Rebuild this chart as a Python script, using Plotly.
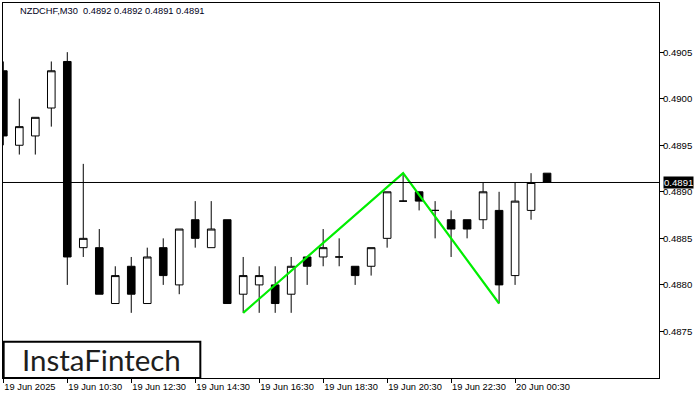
import plotly.graph_objects as go

times = ["08:30", "09:00", "09:30", "10:00", "10:30", "11:00", "11:30", "12:00", "12:30",
         "13:00", "13:30", "14:00", "14:30", "15:00", "15:30", "16:00", "16:30", "17:00",
         "17:30", "18:00", "18:30", "19:00", "19:30", "20:00", "20:30", "21:00", "21:30",
         "22:00", "22:30", "23:00", "23:30", "00:00", "00:30", "01:00", "01:30"]
opens = [0.4903, 0.4895, 0.4896, 0.4899, 0.4904, 0.4884, 0.4884, 0.4878, 0.4882,
         0.4878, 0.4884, 0.4880, 0.4887, 0.4884, 0.4887, 0.4879, 0.4880, 0.4880,
         0.4879, 0.4883, 0.4883, 0.4883, 0.4882, 0.4882, 0.4885, 0.4889, 0.4890,
         0.4888, 0.4887, 0.4887, 0.4887, 0.4888, 0.4881, 0.4888, 0.4892]
highs = [0.4904, 0.4900, 0.4898, 0.4904, 0.4905, 0.4893, 0.4886, 0.4882, 0.4883,
         0.4884, 0.4885, 0.4886, 0.4889, 0.4889, 0.4887, 0.4883, 0.4882, 0.4882,
         0.4883, 0.4883, 0.4886, 0.4885, 0.4882, 0.4884, 0.4890, 0.4892, 0.4890,
         0.4889, 0.4888, 0.4887, 0.4891, 0.4890, 0.4891, 0.4892, 0.4892]
lows = [0.4895, 0.4894, 0.4894, 0.4897, 0.4880, 0.4883, 0.4879, 0.4878, 0.4877,
        0.4878, 0.4880, 0.4879, 0.4884, 0.4884, 0.4878, 0.4877, 0.4877, 0.4877,
        0.4877, 0.4880, 0.4882, 0.4882, 0.4880, 0.4881, 0.4884, 0.4889, 0.4888,
        0.4885, 0.4883, 0.4885, 0.4886, 0.4878, 0.4880, 0.4887, 0.4891]
closes = [0.4896, 0.4897, 0.4898, 0.4903, 0.4883, 0.4885, 0.4879, 0.4881, 0.4879,
          0.4883, 0.4881, 0.4886, 0.4885, 0.4886, 0.4878, 0.4881, 0.4881, 0.4878,
          0.4882, 0.4882, 0.4884, 0.4883, 0.4881, 0.4884, 0.4890, 0.4889, 0.4889,
          0.4888, 0.4886, 0.4886, 0.4890, 0.4880, 0.4889, 0.4891, 0.4891]

tick_idx = [0, 4, 8, 12, 16, 20, 24, 28, 32]
tick_labels = ["19 Jun 2025", "19 Jun 10:30", "19 Jun 12:30", "19 Jun 14:30", "19 Jun 16:30",
               "19 Jun 18:30", "19 Jun 20:30", "19 Jun 22:30", "20 Jun 00:30"]
y_ticks = [0.4875, 0.4880, 0.4885, 0.4890, 0.4895, 0.4900, 0.4905]

pattern_idx = [15, 25, 31]
pattern_price = [0.4877, 0.4892, 0.4878]

current_price = 0.4891
header = "NZDCHF,M30  0.4892 0.4892 0.4891 0.4891"
logo = "InstaFintech"

xs = list(range(len(times)))

fig = go.Figure()
fig.add_trace(go.Candlestick(
    x=xs, open=opens, high=highs, low=lows, close=closes,
    increasing=dict(fillcolor="white", line=dict(color="black", width=1)),
    decreasing=dict(fillcolor="black", line=dict(color="black", width=1)),
    whiskerwidth=0, showlegend=False, hoverinfo="skip",
))
fig.add_trace(go.Scatter(
    x=pattern_idx, y=pattern_price, mode="lines",
    line=dict(color="#00ee00", width=2.2), showlegend=False, hoverinfo="skip",
))

fig.add_hline(y=current_price, line=dict(color="black", width=1))

axis_font = dict(family="Liberation Sans, Arial, sans-serif", size=9.3, color="black")

fig.update_layout(
    width=700, height=400,
    margin=dict(l=3, r=41, t=3, b=22, autoexpand=False),
    paper_bgcolor="white", plot_bgcolor="white",
    boxgap=0.32,
    xaxis=dict(
        range=[-0.02, 41.0], showgrid=False, zeroline=False,
        showline=True, linecolor="black", linewidth=1, mirror=True,
        ticks="outside", ticklen=4, tickcolor="black", tickwidth=1,
        tickmode="array", tickvals=tick_idx, ticktext=tick_labels,
        ticklabelposition="outside right",
        tickfont=axis_font, automargin=False,
        rangeslider=dict(visible=False),
    ),
    yaxis=dict(
        range=[0.4870, 0.491028], side="right", showgrid=False, zeroline=False,
        showline=True, linecolor="black", linewidth=1, mirror=True,
        ticks="outside", ticklen=4, tickcolor="black", tickwidth=1,
        tickmode="array", tickvals=y_ticks, tickformat=".4f",
        tickfont=dict(family="Liberation Sans, Arial, sans-serif", size=9.6, color="black"),
        ticklabelstandoff=-3, automargin=False,
    ),
)

# Header text
fig.add_annotation(
    xref="paper", yref="paper", x=0.0229, y=0.98, xanchor="left", yanchor="middle",
    text=header, showarrow=False,
    font=dict(family="Liberation Sans, Arial, sans-serif", size=9.3, color="#000020"),
)

# Current price label
fig.add_annotation(
    xref="paper", yref="y", x=1, y=current_price, xanchor="left", yanchor="middle",
    xshift=4, text=f"{current_price:.4f}", showarrow=False, bgcolor="black",
    borderpad=0, font=dict(family="Liberation Sans, Arial, sans-serif", size=9.6, color="white"),
)

# Logo box
fig.add_shape(type="rect", xref="paper", yref="paper", x0=0.001, x1=0.3008, y0=0.0, y1=0.0968,
              line=dict(color="black", width=2), fillcolor="white", layer="above")
fig.add_annotation(
    xref="paper", yref="paper", x=0.1505, y=0.0499, xanchor="center", yanchor="middle",
    text=logo, showarrow=False,
    font=dict(family="Lato, Noto Sans, sans-serif", size=29.5, color="#1e1e1e"),
)

fig.write_html("out.html", config={"displayModeBar": False},
               post_script="document.body.style.margin='0';")
